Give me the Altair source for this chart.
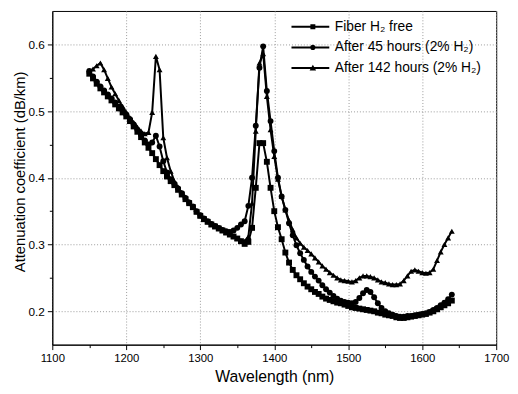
import altair as alt
import pandas as pd

wavelength = list(range(1150, 1645, 5))

fiber_free = [
    0.556, 0.549, 0.541, 0.534, 0.528, 0.522, 0.516, 0.510, 0.504, 0.498,
    0.492, 0.485, 0.477, 0.469, 0.461, 0.453, 0.445, 0.437, 0.428, 0.419,
    0.410, 0.402, 0.395, 0.389, 0.382, 0.375, 0.368, 0.362, 0.356, 0.349,
    0.343, 0.338, 0.334, 0.330, 0.327, 0.324, 0.321, 0.318, 0.315, 0.312,
    0.309, 0.305, 0.301, 0.304, 0.325, 0.385, 0.452, 0.452, 0.424, 0.385,
    0.350, 0.326, 0.308, 0.288, 0.273, 0.262, 0.254, 0.248, 0.242, 0.237,
    0.233, 0.229, 0.226, 0.222, 0.219, 0.217, 0.215, 0.213, 0.212, 0.210,
    0.208, 0.206, 0.205, 0.204, 0.203, 0.202, 0.201, 0.200, 0.198, 0.197,
    0.195, 0.194, 0.193, 0.191, 0.190, 0.190, 0.191, 0.192, 0.193, 0.194,
    0.195, 0.196, 0.198, 0.200, 0.203, 0.206, 0.209, 0.212, 0.216,
]

after_45h = [
    0.560, 0.552, 0.544, 0.537, 0.531, 0.525, 0.519, 0.513, 0.507, 0.501,
    0.495, 0.488, 0.480, 0.472, 0.464, 0.456, 0.450, 0.453, 0.463, 0.447,
    0.425, 0.408, 0.398, 0.391, 0.384, 0.377, 0.370, 0.363, 0.357, 0.350,
    0.344, 0.339, 0.335, 0.331, 0.328, 0.325, 0.322, 0.320, 0.319, 0.321,
    0.325, 0.330, 0.335, 0.358, 0.400, 0.478, 0.565, 0.597, 0.530, 0.485,
    0.440, 0.400, 0.372, 0.352, 0.332, 0.314, 0.299, 0.287, 0.277, 0.267,
    0.259, 0.252, 0.246, 0.239, 0.233, 0.228, 0.223, 0.219, 0.216, 0.214,
    0.213, 0.212, 0.214, 0.220, 0.227, 0.232, 0.229, 0.221, 0.212, 0.205,
    0.200, 0.197, 0.195, 0.193, 0.192, 0.192, 0.193, 0.193, 0.194, 0.195,
    0.196, 0.197, 0.199, 0.202, 0.205, 0.209, 0.213, 0.218, 0.225,
]

after_142h = [
    0.560, 0.563, 0.568, 0.572, 0.562, 0.549, 0.536, 0.526, 0.516, 0.507,
    0.498, 0.490, 0.483, 0.476, 0.470, 0.466, 0.468, 0.498, 0.582, 0.562,
    0.460, 0.430, 0.410, 0.395, 0.386, 0.378, 0.371, 0.364, 0.357, 0.350,
    0.344, 0.339, 0.335, 0.331, 0.327, 0.324, 0.321, 0.318, 0.315, 0.312,
    0.309, 0.306, 0.305, 0.312, 0.362, 0.470, 0.572, 0.586, 0.522, 0.472,
    0.432, 0.398, 0.372, 0.352, 0.336, 0.322, 0.310, 0.302, 0.296, 0.291,
    0.286, 0.280, 0.274, 0.268, 0.263, 0.258, 0.254, 0.250, 0.247, 0.246,
    0.245, 0.244, 0.246, 0.250, 0.253, 0.253, 0.252, 0.250, 0.247, 0.244,
    0.243, 0.241, 0.240, 0.240, 0.241, 0.246, 0.253, 0.260, 0.262, 0.260,
    0.258, 0.257, 0.258, 0.263, 0.276, 0.289, 0.300, 0.310, 0.320,
]

series_names = ["Fiber H\u2082 free", "After 45 hours (2% H\u2082)", "After 142 hours (2% H\u2082)"]
series_values = [fiber_free, after_45h, after_142h]

x_ticks = list(range(1100, 1701, 50))
y_ticks = [0.2, 0.25, 0.3, 0.35, 0.4, 0.45, 0.5, 0.55, 0.6]

rows = []
for name, vals in zip(series_names, series_values):
    for w, v in zip(wavelength, vals):
        rows.append({"wavelength": w, "att": v, "series": name})
df = pd.DataFrame(rows)

FONT = "Liberation Sans"

# legend glyphs: thin filled bar (the line) + marker; unit = 6 px at symbol size 144
line_path = "M-5.5,-0.17H0.9V0.17H-5.5Z"
sq_path = line_path + "M-2.3,-0.42H-1.46V0.42H-2.3Z"
ci_path = line_path + "M-1.43,0A0.45,0.45 0 1,1 -2.33,0A0.45,0.45 0 1,1 -1.43,0Z"
tr_path = line_path + "M-1.88,-0.58L-1.33,0.4H-2.43Z"

x_major = "datum.value % 100 == 0"
y_major = "abs(datum.value * 10 - round(datum.value * 10)) < 0.001"

x_enc = alt.X(
    "wavelength:Q",
    scale=alt.Scale(domain=[1100, 1700], nice=False, zero=False),
    axis=alt.Axis(
        values=x_ticks,
        title="Wavelength (nm)",
        format="d",
        labelExpr=x_major + " ? datum.label : ''",
        tickSize={"condition": {"test": x_major, "value": 5}, "value": 3},
        gridOpacity={"condition": {"test": x_major, "value": 1}, "value": 0},
        labelFontSize=11.5,
        labelPadding=3,
        titlePadding=5,
        titleFontSize=16,
        labelFlush=False,
    ),
)
y_enc = alt.Y(
    "att:Q",
    scale=alt.Scale(domain=[0.15, 0.65], nice=False, zero=False),
    axis=alt.Axis(
        values=y_ticks,
        title="Attenuation coefficient (dB/km)",
        format=".1f",
        labelExpr=y_major + " ? datum.label : ''",
        tickSize={"condition": {"test": y_major, "value": 5}, "value": 3},
        gridOpacity={"condition": {"test": y_major, "value": 1}, "value": 0},
        labelFontSize=12,
        labelPadding=3,
        titlePadding=1,
        titleFontSize=15,
        titleY=163,
        labelFlush=False,
    ),
)

lines = alt.Chart(df).mark_line(color="black", strokeWidth=2).encode(
    x=x_enc, y=y_enc, detail="series:N"
)

points = alt.Chart(df).mark_point(filled=True, color="black", opacity=1, size=36).encode(
    x=x_enc,
    y=y_enc,
    shape=alt.Shape(
        "series:N",
        scale=alt.Scale(domain=series_names, range=["square", "circle", "triangle-up"]),
        legend=None,
    ),
)

# legend-only layer (no data drawn); its shape scale holds line+marker glyphs
legend_layer = (
    alt.Chart(df)
    .transform_filter("false")
    .mark_point(filled=True, color="black", opacity=1)
    .encode(
        x=x_enc,
        y=y_enc,
        shape=alt.Shape(
            "series:N",
            scale=alt.Scale(domain=series_names, range=[sq_path, ci_path, tr_path]),
            legend=alt.Legend(
                title=None,
                orient="none",
                legendX=269,
                legendY=9,
                symbolSize=144,
                symbolFillColor="black",
                symbolOpacity=1,
                labelOffset=4,
                rowPadding=7,
                padding=0,
                labelLimit=400,
                labelFontSize=14,
                labelFont=FONT,
                labelColor="black",
            ),
        ),
    )
)

chart = (
    alt.layer(lines, points, legend_layer)
    .resolve_scale(shape="independent")
    .properties(
        width=451,
        height=339,
        autosize=alt.AutoSizeParams(type="none"),
        padding={"left": 45, "top": 0, "right": 14, "bottom": 40},
    )
    .configure_view(stroke="black", strokeWidth=1)
    .configure_axis(
        labelFont=FONT,
        titleFont=FONT,
        titleFontWeight="normal",
        labelColor="black",
        titleColor="black",
        domainColor="black",
        tickColor="black",
        gridColor="#9a9a9a",
        gridDash=[1, 2],
        gridWidth=1,
    )
)

chart.save("out.html", embed_options={"renderer": "svg", "actions": False})
